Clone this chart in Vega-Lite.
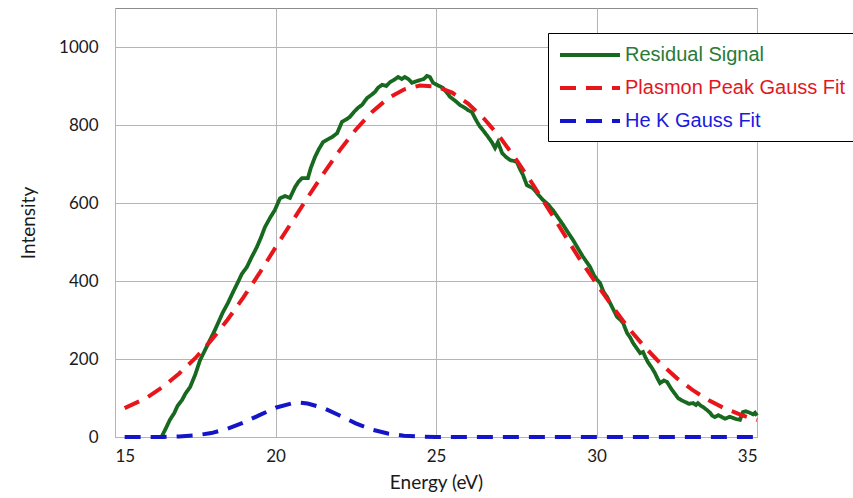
{
  "$schema": "https://vega.github.io/schema/vega-lite/v6.json",
  "width": 642,
  "height": 429,
  "autosize": {"type": "none"},
  "padding": {"left": 115, "top": 8, "right": 96, "bottom": 61},
  "background": "white",
  "config": {
    "view": {"stroke": "#8c8c8c", "strokeWidth": 1},
    "axis": {
      "grid": true, "gridColor": "#b5b5b5", "gridWidth": 1,
      "domain": false, "ticks": false,
      "labelFont": "Lato", "labelFontSize": 17, "labelColor": "#1a1a1a",
      "titleFont": "Lato", "titleFontSize": 19, "titleFontWeight": "normal", "titleColor": "#1a1a1a"
    }
  },
  "data": {"values": [
    {"series": "Residual Signal", "E": 16.45, "I": 0},
    {"series": "Residual Signal", "E": 16.6, "I": 25},
    {"series": "Residual Signal", "E": 16.71, "I": 44},
    {"series": "Residual Signal", "E": 16.85, "I": 62},
    {"series": "Residual Signal", "E": 16.95, "I": 80},
    {"series": "Residual Signal", "E": 17.09, "I": 95},
    {"series": "Residual Signal", "E": 17.2, "I": 112},
    {"series": "Residual Signal", "E": 17.34, "I": 128},
    {"series": "Residual Signal", "E": 17.5, "I": 160},
    {"series": "Residual Signal", "E": 17.65, "I": 197},
    {"series": "Residual Signal", "E": 17.8, "I": 222},
    {"series": "Residual Signal", "E": 17.96, "I": 249},
    {"series": "Residual Signal", "E": 18.1, "I": 272},
    {"series": "Residual Signal", "E": 18.21, "I": 292},
    {"series": "Residual Signal", "E": 18.35, "I": 318},
    {"series": "Residual Signal", "E": 18.52, "I": 344},
    {"series": "Residual Signal", "E": 18.68, "I": 372},
    {"series": "Residual Signal", "E": 18.83, "I": 397},
    {"series": "Residual Signal", "E": 18.95, "I": 418},
    {"series": "Residual Signal", "E": 19.11, "I": 436},
    {"series": "Residual Signal", "E": 19.25, "I": 460},
    {"series": "Residual Signal", "E": 19.42, "I": 487},
    {"series": "Residual Signal", "E": 19.55, "I": 512},
    {"series": "Residual Signal", "E": 19.67, "I": 538},
    {"series": "Residual Signal", "E": 19.83, "I": 562},
    {"series": "Residual Signal", "E": 19.98, "I": 582},
    {"series": "Residual Signal", "E": 20.14, "I": 612},
    {"series": "Residual Signal", "E": 20.3, "I": 618},
    {"series": "Residual Signal", "E": 20.45, "I": 613},
    {"series": "Residual Signal", "E": 20.61, "I": 641},
    {"series": "Residual Signal", "E": 20.72, "I": 655},
    {"series": "Residual Signal", "E": 20.83, "I": 664},
    {"series": "Residual Signal", "E": 21.01, "I": 664},
    {"series": "Residual Signal", "E": 21.1, "I": 690},
    {"series": "Residual Signal", "E": 21.23, "I": 718},
    {"series": "Residual Signal", "E": 21.35, "I": 738},
    {"series": "Residual Signal", "E": 21.48, "I": 756},
    {"series": "Residual Signal", "E": 21.6, "I": 762},
    {"series": "Residual Signal", "E": 21.76, "I": 769},
    {"series": "Residual Signal", "E": 21.92, "I": 779},
    {"series": "Residual Signal", "E": 22.07, "I": 808},
    {"series": "Residual Signal", "E": 22.2, "I": 814},
    {"series": "Residual Signal", "E": 22.32, "I": 821},
    {"series": "Residual Signal", "E": 22.45, "I": 834},
    {"series": "Residual Signal", "E": 22.57, "I": 844},
    {"series": "Residual Signal", "E": 22.7, "I": 852},
    {"series": "Residual Signal", "E": 22.85, "I": 869},
    {"series": "Residual Signal", "E": 22.97, "I": 876},
    {"series": "Residual Signal", "E": 23.1, "I": 885},
    {"series": "Residual Signal", "E": 23.2, "I": 896},
    {"series": "Residual Signal", "E": 23.32, "I": 903},
    {"series": "Residual Signal", "E": 23.45, "I": 900},
    {"series": "Residual Signal", "E": 23.57, "I": 910},
    {"series": "Residual Signal", "E": 23.7, "I": 916},
    {"series": "Residual Signal", "E": 23.82, "I": 923},
    {"series": "Residual Signal", "E": 23.93, "I": 918},
    {"series": "Residual Signal", "E": 24.03, "I": 923},
    {"series": "Residual Signal", "E": 24.15, "I": 917},
    {"series": "Residual Signal", "E": 24.25, "I": 908},
    {"series": "Residual Signal", "E": 24.38, "I": 912},
    {"series": "Residual Signal", "E": 24.5, "I": 915},
    {"series": "Residual Signal", "E": 24.62, "I": 918},
    {"series": "Residual Signal", "E": 24.72, "I": 926},
    {"series": "Residual Signal", "E": 24.81, "I": 923},
    {"series": "Residual Signal", "E": 24.91, "I": 908},
    {"series": "Residual Signal", "E": 25.05, "I": 902},
    {"series": "Residual Signal", "E": 25.22, "I": 895},
    {"series": "Residual Signal", "E": 25.32, "I": 885},
    {"series": "Residual Signal", "E": 25.44, "I": 872},
    {"series": "Residual Signal", "E": 25.6, "I": 862},
    {"series": "Residual Signal", "E": 25.75, "I": 851},
    {"series": "Residual Signal", "E": 25.9, "I": 844},
    {"series": "Residual Signal", "E": 26.0, "I": 838},
    {"series": "Residual Signal", "E": 26.12, "I": 833},
    {"series": "Residual Signal", "E": 26.2, "I": 820},
    {"series": "Residual Signal", "E": 26.28, "I": 808},
    {"series": "Residual Signal", "E": 26.36, "I": 797},
    {"series": "Residual Signal", "E": 26.46, "I": 787},
    {"series": "Residual Signal", "E": 26.6, "I": 772},
    {"series": "Residual Signal", "E": 26.74, "I": 756},
    {"series": "Residual Signal", "E": 26.84, "I": 741},
    {"series": "Residual Signal", "E": 26.93, "I": 756},
    {"series": "Residual Signal", "E": 27.06, "I": 728},
    {"series": "Residual Signal", "E": 27.18, "I": 718},
    {"series": "Residual Signal", "E": 27.31, "I": 710},
    {"series": "Residual Signal", "E": 27.42, "I": 708},
    {"series": "Residual Signal", "E": 27.52, "I": 705},
    {"series": "Residual Signal", "E": 27.61, "I": 688},
    {"series": "Residual Signal", "E": 27.71, "I": 672},
    {"series": "Residual Signal", "E": 27.83, "I": 646},
    {"series": "Residual Signal", "E": 27.92, "I": 642},
    {"series": "Residual Signal", "E": 28.02, "I": 638},
    {"series": "Residual Signal", "E": 28.15, "I": 625},
    {"series": "Residual Signal", "E": 28.33, "I": 608},
    {"series": "Residual Signal", "E": 28.48, "I": 597},
    {"series": "Residual Signal", "E": 28.64, "I": 582},
    {"series": "Residual Signal", "E": 28.8, "I": 563},
    {"series": "Residual Signal", "E": 28.96, "I": 544},
    {"series": "Residual Signal", "E": 29.1, "I": 526},
    {"series": "Residual Signal", "E": 29.27, "I": 505},
    {"series": "Residual Signal", "E": 29.42, "I": 484},
    {"series": "Residual Signal", "E": 29.58, "I": 462},
    {"series": "Residual Signal", "E": 29.7, "I": 448},
    {"series": "Residual Signal", "E": 29.8, "I": 436},
    {"series": "Residual Signal", "E": 29.92, "I": 415},
    {"series": "Residual Signal", "E": 30.02, "I": 403},
    {"series": "Residual Signal", "E": 30.11, "I": 395},
    {"series": "Residual Signal", "E": 30.22, "I": 372},
    {"series": "Residual Signal", "E": 30.33, "I": 359},
    {"series": "Residual Signal", "E": 30.42, "I": 344},
    {"series": "Residual Signal", "E": 30.53, "I": 326},
    {"series": "Residual Signal", "E": 30.64, "I": 308},
    {"series": "Residual Signal", "E": 30.75, "I": 300},
    {"series": "Residual Signal", "E": 30.83, "I": 292},
    {"series": "Residual Signal", "E": 30.95, "I": 267},
    {"series": "Residual Signal", "E": 31.05, "I": 255},
    {"series": "Residual Signal", "E": 31.14, "I": 241},
    {"series": "Residual Signal", "E": 31.25, "I": 228},
    {"series": "Residual Signal", "E": 31.36, "I": 215},
    {"series": "Residual Signal", "E": 31.45, "I": 218},
    {"series": "Residual Signal", "E": 31.52, "I": 205},
    {"series": "Residual Signal", "E": 31.6, "I": 192},
    {"series": "Residual Signal", "E": 31.72, "I": 178},
    {"series": "Residual Signal", "E": 31.82, "I": 164},
    {"series": "Residual Signal", "E": 31.9, "I": 150},
    {"series": "Residual Signal", "E": 31.98, "I": 138},
    {"series": "Residual Signal", "E": 32.1, "I": 145},
    {"series": "Residual Signal", "E": 32.2, "I": 141},
    {"series": "Residual Signal", "E": 32.28, "I": 130},
    {"series": "Residual Signal", "E": 32.35, "I": 121},
    {"series": "Residual Signal", "E": 32.45, "I": 110},
    {"series": "Residual Signal", "E": 32.54, "I": 100},
    {"series": "Residual Signal", "E": 32.65, "I": 94},
    {"series": "Residual Signal", "E": 32.76, "I": 90},
    {"series": "Residual Signal", "E": 32.88, "I": 85},
    {"series": "Residual Signal", "E": 33.01, "I": 87},
    {"series": "Residual Signal", "E": 33.1, "I": 82},
    {"series": "Residual Signal", "E": 33.16, "I": 87},
    {"series": "Residual Signal", "E": 33.25, "I": 80},
    {"series": "Residual Signal", "E": 33.32, "I": 77},
    {"series": "Residual Signal", "E": 33.43, "I": 70},
    {"series": "Residual Signal", "E": 33.54, "I": 62},
    {"series": "Residual Signal", "E": 33.6, "I": 55},
    {"series": "Residual Signal", "E": 33.69, "I": 51},
    {"series": "Residual Signal", "E": 33.8, "I": 56},
    {"series": "Residual Signal", "E": 33.91, "I": 51},
    {"series": "Residual Signal", "E": 34.0, "I": 47},
    {"series": "Residual Signal", "E": 34.07, "I": 49},
    {"series": "Residual Signal", "E": 34.15, "I": 52},
    {"series": "Residual Signal", "E": 34.25, "I": 49},
    {"series": "Residual Signal", "E": 34.35, "I": 46},
    {"series": "Residual Signal", "E": 34.47, "I": 44},
    {"series": "Residual Signal", "E": 34.52, "I": 55},
    {"series": "Residual Signal", "E": 34.56, "I": 64},
    {"series": "Residual Signal", "E": 34.65, "I": 66},
    {"series": "Residual Signal", "E": 34.78, "I": 62},
    {"series": "Residual Signal", "E": 34.88, "I": 58},
    {"series": "Residual Signal", "E": 34.94, "I": 62},
    {"series": "Residual Signal", "E": 35.0, "I": 55},
    {"series": "Plasmon Peak Gauss Fit", "E": 15.3, "I": 74},
    {"series": "Plasmon Peak Gauss Fit", "E": 16.0, "I": 101},
    {"series": "Plasmon Peak Gauss Fit", "E": 16.5, "I": 129},
    {"series": "Plasmon Peak Gauss Fit", "E": 17.0, "I": 163},
    {"series": "Plasmon Peak Gauss Fit", "E": 17.5, "I": 202},
    {"series": "Plasmon Peak Gauss Fit", "E": 18.0, "I": 248},
    {"series": "Plasmon Peak Gauss Fit", "E": 18.5, "I": 300},
    {"series": "Plasmon Peak Gauss Fit", "E": 19.0, "I": 358},
    {"series": "Plasmon Peak Gauss Fit", "E": 19.5, "I": 420},
    {"series": "Plasmon Peak Gauss Fit", "E": 20.0, "I": 486},
    {"series": "Plasmon Peak Gauss Fit", "E": 20.5, "I": 550},
    {"series": "Plasmon Peak Gauss Fit", "E": 21.0, "I": 614},
    {"series": "Plasmon Peak Gauss Fit", "E": 21.5, "I": 676},
    {"series": "Plasmon Peak Gauss Fit", "E": 22.0, "I": 735},
    {"series": "Plasmon Peak Gauss Fit", "E": 22.5, "I": 788},
    {"series": "Plasmon Peak Gauss Fit", "E": 23.0, "I": 833},
    {"series": "Plasmon Peak Gauss Fit", "E": 23.5, "I": 868},
    {"series": "Plasmon Peak Gauss Fit", "E": 24.0, "I": 891},
    {"series": "Plasmon Peak Gauss Fit", "E": 24.5, "I": 901},
    {"series": "Plasmon Peak Gauss Fit", "E": 25.0, "I": 899},
    {"series": "Plasmon Peak Gauss Fit", "E": 25.5, "I": 883},
    {"series": "Plasmon Peak Gauss Fit", "E": 26.0, "I": 855},
    {"series": "Plasmon Peak Gauss Fit", "E": 26.5, "I": 816},
    {"series": "Plasmon Peak Gauss Fit", "E": 27.0, "I": 768},
    {"series": "Plasmon Peak Gauss Fit", "E": 27.5, "I": 711},
    {"series": "Plasmon Peak Gauss Fit", "E": 28.0, "I": 650},
    {"series": "Plasmon Peak Gauss Fit", "E": 28.5, "I": 585},
    {"series": "Plasmon Peak Gauss Fit", "E": 29.0, "I": 519},
    {"series": "Plasmon Peak Gauss Fit", "E": 29.5, "I": 453},
    {"series": "Plasmon Peak Gauss Fit", "E": 30.0, "I": 393},
    {"series": "Plasmon Peak Gauss Fit", "E": 30.5, "I": 334},
    {"series": "Plasmon Peak Gauss Fit", "E": 31.0, "I": 279},
    {"series": "Plasmon Peak Gauss Fit", "E": 31.5, "I": 231},
    {"series": "Plasmon Peak Gauss Fit", "E": 32.0, "I": 188},
    {"series": "Plasmon Peak Gauss Fit", "E": 32.5, "I": 151},
    {"series": "Plasmon Peak Gauss Fit", "E": 33.0, "I": 120},
    {"series": "Plasmon Peak Gauss Fit", "E": 33.5, "I": 94},
    {"series": "Plasmon Peak Gauss Fit", "E": 34.0, "I": 73},
    {"series": "Plasmon Peak Gauss Fit", "E": 34.5, "I": 57},
    {"series": "Plasmon Peak Gauss Fit", "E": 35.0, "I": 43},
    {"series": "He K Gauss Fit", "E": 15.3, "I": 0},
    {"series": "He K Gauss Fit", "E": 16.5, "I": 0},
    {"series": "He K Gauss Fit", "E": 17.0, "I": 1.5},
    {"series": "He K Gauss Fit", "E": 17.5, "I": 4},
    {"series": "He K Gauss Fit", "E": 18.0, "I": 10},
    {"series": "He K Gauss Fit", "E": 18.5, "I": 21},
    {"series": "He K Gauss Fit", "E": 19.0, "I": 37},
    {"series": "He K Gauss Fit", "E": 19.5, "I": 56},
    {"series": "He K Gauss Fit", "E": 20.0, "I": 75},
    {"series": "He K Gauss Fit", "E": 20.5, "I": 86},
    {"series": "He K Gauss Fit", "E": 20.75, "I": 88},
    {"series": "He K Gauss Fit", "E": 21.0, "I": 86},
    {"series": "He K Gauss Fit", "E": 21.5, "I": 74},
    {"series": "He K Gauss Fit", "E": 22.0, "I": 55},
    {"series": "He K Gauss Fit", "E": 22.5, "I": 35},
    {"series": "He K Gauss Fit", "E": 23.0, "I": 19},
    {"series": "He K Gauss Fit", "E": 23.5, "I": 9},
    {"series": "He K Gauss Fit", "E": 24.0, "I": 3.5},
    {"series": "He K Gauss Fit", "E": 24.5, "I": 1},
    {"series": "He K Gauss Fit", "E": 25.0, "I": 0},
    {"series": "He K Gauss Fit", "E": 35.0, "I": 0}
  ]},
  "encoding": {
    "x": {"field": "E", "type": "quantitative",
      "scale": {"domain": [15, 35], "nice": false, "zero": false},
      "axis": {"values": [15, 20, 25, 30, 35], "format": "d", "title": "Energy (eV)", "labelPadding": 11, "titlePadding": 9}},
    "y": {"field": "I", "type": "quantitative",
      "scale": {"domain": [0, 1100], "nice": false},
      "axis": {"values": [0, 200, 400, 600, 800, 1000], "format": "d", "title": "Intensity", "labelPadding": 17, "titlePadding": 20}},
    "color": {"field": "series", "type": "nominal",
      "scale": {"domain": ["Residual Signal", "Plasmon Peak Gauss Fit", "He K Gauss Fit"], "range": ["#17691f", "#e8161b", "#1414c8"]},
      "legend": {
        "orient": "none", "legendX": 433, "legendY": 25, "title": null,
        "symbolType": "M-1,0H5", "symbolSize": 400, "symbolStrokeWidth": 4,
        "labelFont": "Liberation Sans", "labelFontSize": 20, "labelOffset": 43, "labelLimit": 400,
        "rowPadding": 11, "padding": 10, "fillColor": "white", "strokeColor": "black",
        "encode": {"labels": {"update": {"fill": {"signal": "datum.value === 'Residual Signal' ? '#2a7a38' : (datum.value === 'He K Gauss Fit' ? '#1a1ae0' : '#e3171e')"}}}}
      }},
    "strokeDash": {"field": "series", "type": "nominal",
      "scale": {"domain": ["Residual Signal", "Plasmon Peak Gauss Fit", "He K Gauss Fit"], "range": [[1, 0], [16, 10], [16, 10]]}}
  },
  "layer": [
    {"transform": [{"filter": "datum.series === 'Residual Signal'"}], "mark": {"type": "line", "strokeWidth": 3.8}},
    {"transform": [{"filter": "datum.series === 'Plasmon Peak Gauss Fit'"}], "mark": {"type": "line", "strokeWidth": 4}},
    {"transform": [{"filter": "datum.series === 'He K Gauss Fit'"}], "mark": {"type": "line", "strokeWidth": 4}}
  ]
}
